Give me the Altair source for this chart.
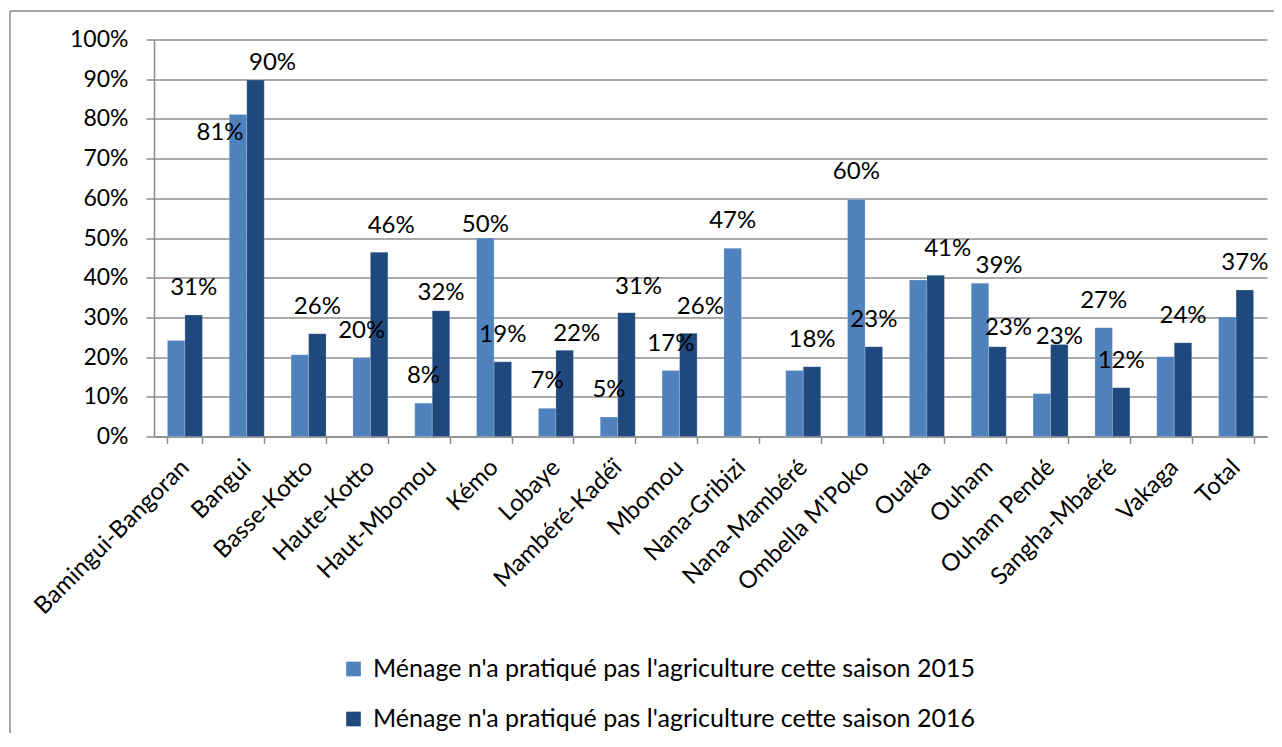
import altair as alt
import pandas as pd

categories = ["Bamingui-Bangoran", "Bangui", "Basse-Kotto", "Haute-Kotto", "Haut-Mbomou",
              "Kémo", "Lobaye", "Mambéré-Kadéï", "Mbomou", "Nana-Gribizi", "Nana-Mambéré",
              "Ombella M'Poko", "Ouaka", "Ouham", "Ouham Pendé", "Sangha-Mbaéré", "Vakaga", "Total"]
values_2015 = [24.2, 81.1, 20.6, 19.8, 8.4, 50.0, 7.1, 4.9, 16.6, 47.4, 16.6, 59.7, 39.4, 38.6, 10.8, 27.4, 20.1, 30.1]
values_2016 = [30.6, 89.8, 25.9, 46.4, 31.7, 18.8, 21.7, 31.2, 26.0, None, 17.6, 22.6, 40.6, 22.6, 23.2, 12.3, 23.6, 36.9]
series_names = ["Ménage n'a pratiqué pas l'agriculture cette saison 2015",
                "Ménage n'a pratiqué pas l'agriculture cette saison 2016"]
series_colors = ["#4F81BD", "#1F497D"]
y_ticks = [0, 0.1, 0.2, 0.3, 0.4, 0.5, 0.6, 0.7, 0.8, 0.9, 1.0]

rows = []
for i, c in enumerate(categories):
    for s, vals in enumerate([values_2015, values_2016]):
        v = vals[i]
        if v is None:
            continue
        rows.append({"Région": c, "Série": series_names[s], "Valeur": v / 100.0,
                     "key": f"{c}|{s}"})
df = pd.DataFrame(rows)

FONT = "Lato"
GRID = "#8c8c8c"

x_enc = alt.X("Région:N", sort=categories,
              scale=alt.Scale(paddingInner=0.434, paddingOuter=0.217),
              axis=alt.Axis(title=None, labelAngle=-45, labelAlign="right", labelBaseline="middle",
                            labelFontSize=24, labelFont=FONT, labelColor="#000000",
                            labelPadding=20, tickBand="extent", tickSize=7, tickColor=GRID,
                            tickWidth=1.5, domainColor=GRID, domainWidth=1.5, grid=False,
                            labelOverlap=False, labelLimit=400))
xo_enc = alt.XOffset("Série:N", sort=series_names, scale=alt.Scale(paddingInner=0, paddingOuter=0))
y_enc = alt.Y("Valeur:Q", scale=alt.Scale(domain=[0, 1], nice=False),
              axis=alt.Axis(title=None, format=".0%", values=y_ticks, labelFontSize=23,
                            labelFont=FONT, labelColor="#000000", labelPadding=18, tickSize=8,
                            tickColor=GRID, tickWidth=1.5, domainColor=GRID, domainWidth=1.5,
                            gridColor=GRID, gridWidth=1.6))

bars = alt.Chart(df).mark_bar(stroke="#ffffff", strokeWidth=0.4, strokeOpacity=0.5).encode(
    x=x_enc, xOffset=xo_enc, y=y_enc,
    color=alt.Color("Série:N", sort=series_names,
                    scale=alt.Scale(domain=series_names, range=series_colors),
                    legend=alt.Legend(title=None, orient="none", legendX=187, legendY=617,
                                      direction="vertical", symbolType="square",
                                      symbolSize=215, symbolStrokeWidth=0,
                                      labelFontSize=25, labelFont=FONT, labelColor="#000000",
                                      labelLimit=1000, rowPadding=24, labelOffset=7)),
)

# label placement (dx, dy) for each labelled bar
placements = {
    (0, -27): ["Bamingui-Bangoran|1", "Basse-Kotto|1", "Haute-Kotto|0", "Haut-Mbomou|0",
               "Kémo|1", "Lobaye|0", "Mambéré-Kadéï|0", "Mbomou|0", "Nana-Gribizi|0",
               "Nana-Mambéré|1", "Ombella M'Poko|0", "Ombella M'Poko|1", "Sangha-Mbaéré|0",
               "Sangha-Mbaéré|1", "Vakaga|1", "Total|1"],
    (12, -26): ["Haute-Kotto|1", "Mambéré-Kadéï|1", "Mbomou|1", "Ouaka|1"],
    (12, -16): ["Lobaye|1"],
    (11, -19): ["Ouham|1"],
    (17, -17): ["Bangui|1"],
    (19, -17): ["Ouham|0"],
    (0, -18): ["Haut-Mbomou|1"],
    (0, -13): ["Kémo|0"],
    (0, -7): ["Ouham Pendé|1"],
    (-18, 18): ["Bangui|0"],
}

text_layers = []
for (dx, dy), keys in placements.items():
    text_layers.append(
        alt.Chart(df).transform_filter(alt.FieldOneOfPredicate(field="key", oneOf=keys))
        .mark_text(dx=dx, dy=dy, fontSize=24, font=FONT, color="#000000", baseline="middle")
        .encode(x=x_enc, xOffset=xo_enc, y=y_enc, text=alt.Text("Valeur:Q", format=".0%"))
    )

frame_df = pd.DataFrame({"f": [0]})
frame_left = alt.Chart(frame_df).mark_rule(color="#8a8a8a", strokeWidth=1.5).encode(
    x=alt.value(-144), y=alt.value(-28.5), y2=alt.value(720))
frame_top = alt.Chart(frame_df).mark_rule(color="#8a8a8a", strokeWidth=1.5).encode(
    x=alt.value(-144), x2=alt.value(1200), y=alt.value(-28.5))

chart = alt.layer(bars, *text_layers, frame_left, frame_top).properties(
    width=1113, height=397,
    autosize=alt.AutoSizeParams(type="none"),
    padding={"left": 146, "top": 31.5, "right": 7, "bottom": 296},
).configure_view(stroke=None)

chart.save("out.html", embed_options={"renderer": "svg", "actions": False})
